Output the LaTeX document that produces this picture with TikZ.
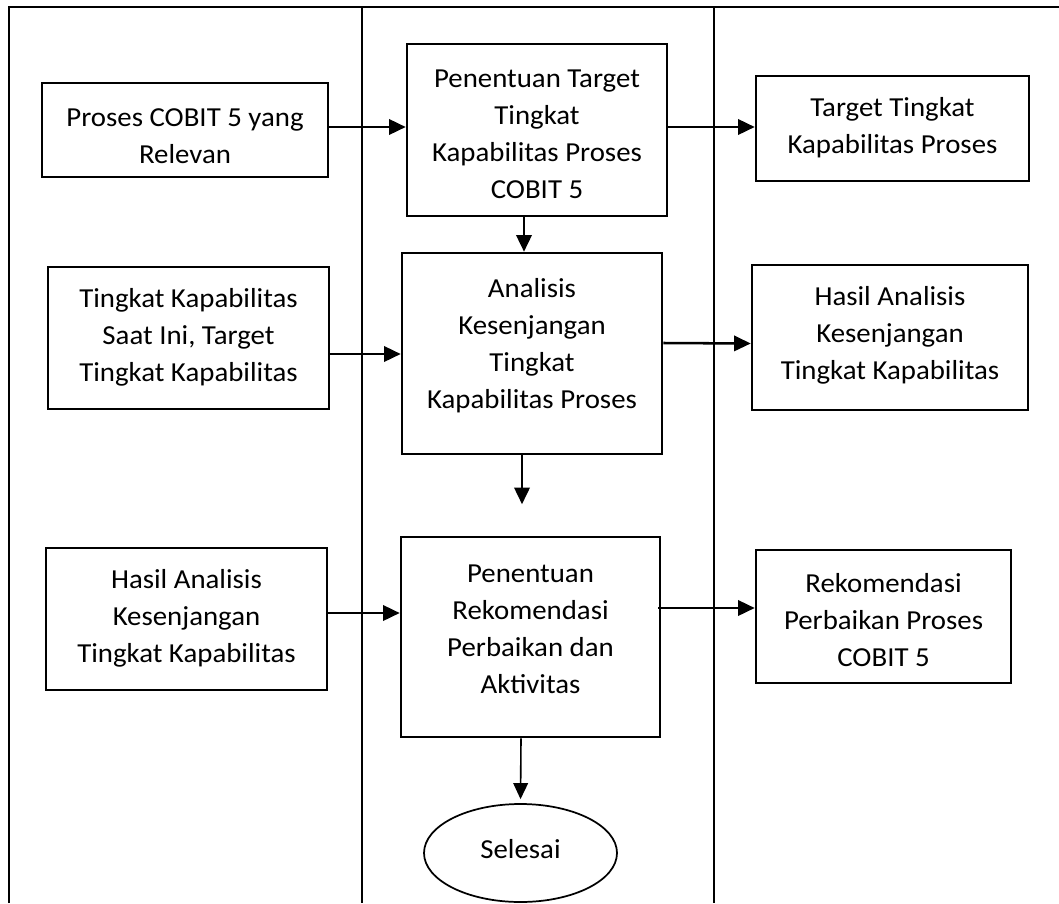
\documentclass[tikz,border=0pt]{standalone}
\usepackage{fontspec}
\setmainfont{Carlito}[FakeStretch=1.05]
\usetikzlibrary{arrows.meta,calc,shapes.geometric}
\newlength{\pxu}\setlength{\pxu}{0.75pt}
\begin{document}
\begin{tikzpicture}[x=0.75pt,y=-0.75pt,
  box/.style={draw,line width=1.9pt,rectangle,inner sep=0pt},
  txt/.style={align=center,inner sep=0pt,font=\fontsize{20.6pt}{27.75pt}\selectfont},
  arr/.style={line width=1.9pt,-{Triangle[length=12.5pt,width=11.5pt]}},
  thinarr/.style={line width=1.2pt,-{Triangle[length=12pt,width=11pt]}},
  frameline/.style={line width=1.4pt}]
\useasboundingbox (0,0) rectangle (1059,903);
% frame
\draw[frameline] (9,903) -- (9,7) -- (1059,7);
\draw[frameline] (362,7) -- (362,903);
\draw[frameline] (714,7) -- (714,903);
% boxes
\node[box,minimum width=286*\pxu,minimum height=94*\pxu] (b1) at (185,130) {};
\node[box,minimum width=260*\pxu,minimum height=172*\pxu] (b2) at (537,130) {};
\node[box,minimum width=273*\pxu,minimum height=105*\pxu] (b3) at (892.5,128.5) {};
\node[box,minimum width=281*\pxu,minimum height=142*\pxu] (b5) at (188.5,338) {};
\node[box,minimum width=260*\pxu,minimum height=201*\pxu] (b4) at (532,353.5) {};
\node[box,minimum width=276*\pxu,minimum height=145*\pxu] (b6) at (890,337.5) {};
\node[box,minimum width=281*\pxu,minimum height=142*\pxu] (b8) at (186.5,619) {};
\node[box,minimum width=259*\pxu,minimum height=200*\pxu] (b7) at (530.5,637) {};
\node[box,minimum width=255*\pxu,minimum height=133*\pxu] (b9) at (883.5,616.5) {};
\node[draw,ellipse,line width=1.3pt,inner sep=0pt,minimum width=193*\pxu,minimum height=98*\pxu] (end) at (520.5,853) {};
% texts
\node[txt] (t1) at (185,136) {Proses COBIT 5 yang\\Relevan};
\node[txt] (t2) at (537,134.5) {Penentuan Target\\Tingkat\\Kapabilitas Proses\\COBIT 5};
\node[txt] (t3) at (892.5,128) {Target Tingkat\\Kapabilitas Proses};
\node[txt] (t5) at (188.5,337) {Tingkat Kapabilitas\\Saat Ini, Target\\Tingkat Kapabilitas};
\node[txt] (t4) at (532,346) {Analisis\\Kesenjangan\\Tingkat\\Kapabilitas Proses};
\node[txt] (t6) at (890,335.5) {Hasil Analisis\\Kesenjangan\\Tingkat Kapabilitas};
\node[txt] (t8) at (186.5,618.5) {Hasil Analisis\\Kesenjangan\\Tingkat Kapabilitas};
\node[txt] (t7) at (530.5,629) {Penentuan\\Rekomendasi\\Perbaikan dan\\Aktivitas};
\node[txt] (t9) at (883.5,620.5) {Rekomendasi\\Perbaikan Proses\\COBIT 5};
\node[txt] (t10) at (520.5,849) {Selesai};
% connectors
\coordinate (d4) at ($(b4.south)+(-10,49)$);
\draw[arr] ($(b1.east)+(0,-3)$) -- ($(b2.west)+(0,-3)$);
\draw[arr] ($(b2.east)+(0,-3)$) -- ($(b3.west)+(0,-1.5)$);
\draw[arr] ($(b2.south)+(-13,0)$) -- ($(b4.north)+(-8,0)$);
\draw[arr] ($(b5.east)+(0,16)$) -- ($(b4.west)+(0,0.5)$);
\draw[arr] ($(b4.east)+(0,-10.5)$) -- ($(b6.west)+(0,6)$);
\draw[arr] ($(b4.south)+(-10,0)$) -- (d4);
\draw[arr] ($(b8.east)+(0,-6)$) -- ($(b7.west)+(0,-24)$);
\draw[arr] ($(b7.east)+(-3,-29)$) -- ($(b9.west)+(0,-8.5)$);
\draw[thinarr,shorten >=3pt] ($(b7.south)+(-9.5,0)$) -- (end.north);
\end{tikzpicture}
\end{document}
